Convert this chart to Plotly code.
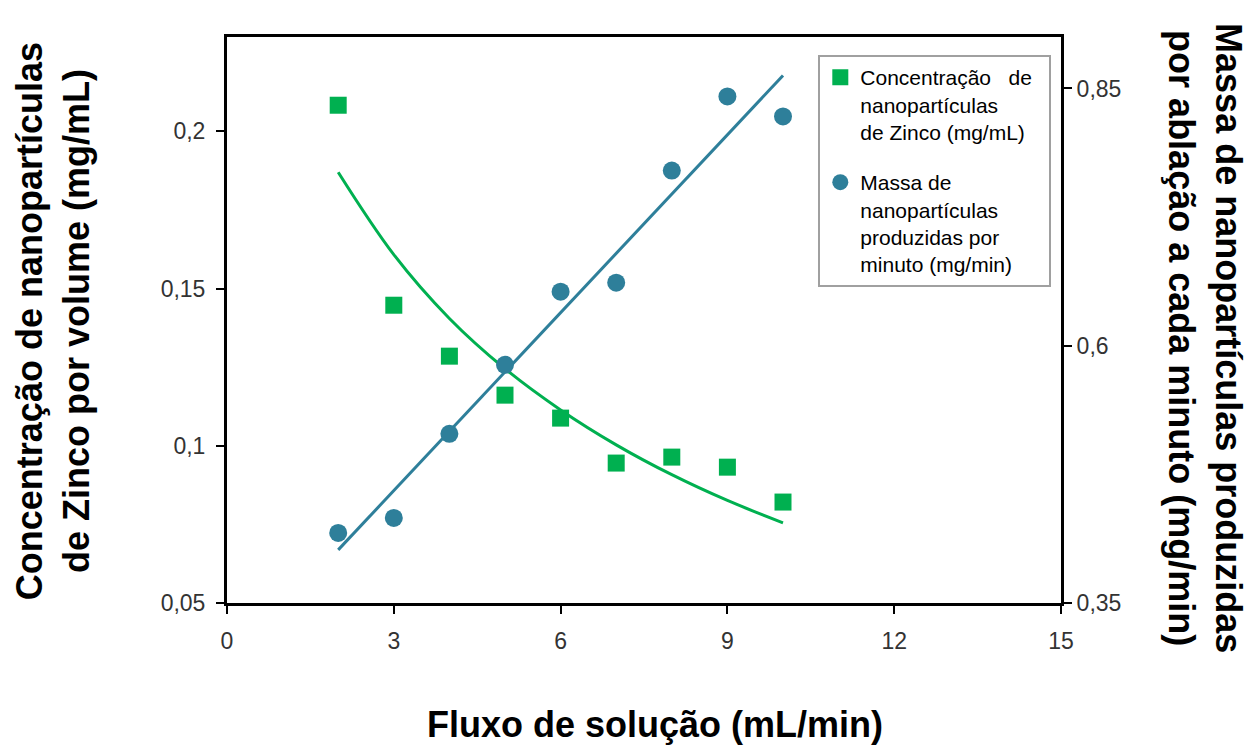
import plotly.graph_objects as go

# ---- data ----
flow = [2, 3, 4, 5, 6, 7, 8, 9, 10]
concentration = [0.2083, 0.1447, 0.1285, 0.1161, 0.1088, 0.0945, 0.0964, 0.0932, 0.0821]
mass_rate = [0.4181, 0.4327, 0.5144, 0.5815, 0.6525, 0.6613, 0.7702, 0.8422, 0.8228]

conc_fit_x = [2, 3, 4, 5, 6, 7, 8, 9, 10]
conc_fit_y = [0.187, 0.1608, 0.1405, 0.1245, 0.1114, 0.1003, 0.0908, 0.0826, 0.0755]
mass_fit_x = [2, 10]
mass_fit_y = [0.4016, 0.8626]

x_ticks = [0, 3, 6, 9, 12, 15]
y1_ticks = [0.05, 0.1, 0.15, 0.2]
y1_labels = ["0,05", "0,1", "0,15", "0,2"]
y2_ticks = [0.35, 0.6, 0.85]
y2_labels = ["0,35", "0,6", "0,85"]

GREEN = "#00b050"
BLUE = "#2e7f9a"
FONT = "Liberation Sans, Arial, sans-serif"
NB = "\u00a0"

fig = go.Figure()

fig.add_trace(go.Scatter(
    x=conc_fit_x, y=conc_fit_y, mode="lines", line=dict(color=GREEN, width=3, shape="spline"),
    showlegend=False, hoverinfo="skip"))
fig.add_trace(go.Scatter(
    x=mass_fit_x, y=mass_fit_y, mode="lines", line=dict(color=BLUE, width=3),
    yaxis="y2", showlegend=False, hoverinfo="skip"))

fig.add_trace(go.Scatter(
    x=flow, y=concentration, mode="markers", legendgroup="conc",
    marker=dict(symbol="square", size=17, color=GREEN),
    name="Concentração" + NB * 2 + " de" + NB * 2 + "<br>nanopartículas<br>de Zinco (mg/mL)"))
fig.add_trace(go.Scatter(
    x=flow, y=mass_rate, mode="markers", yaxis="y2", legendgroup="mass",
    marker=dict(symbol="circle", size=18, color=BLUE),
    name="Massa de<br>nanopartículas<br>produzidas por<br>minuto (mg/min)"))

axis_common = dict(showgrid=False, zeroline=False, showline=True, linecolor="black",
                   linewidth=3, ticks="outside", ticklen=8, tickwidth=2, tickcolor="black",
                   tickfont=dict(family=FONT, size=23, color="#333"))

fig.update_layout(
    width=1250, height=745,
    margin=dict(l=227, r=189, t=37, b=142),
    plot_bgcolor="white", paper_bgcolor="white",
    xaxis=dict(range=[0, 15], tickvals=x_ticks, mirror=True, ticklabelstandoff=7, **axis_common),
    yaxis=dict(range=[0.05, 0.23], tickvals=y1_ticks, ticktext=y1_labels,
               ticklabelstandoff=6, **axis_common),
    yaxis2=dict(range=[0.35, 0.9], tickvals=y2_ticks, ticktext=y2_labels,
                overlaying="y", side="right", **axis_common),
    legend=dict(x=0.709, y=0.968, xanchor="left", yanchor="top",
                bordercolor="#a0a0a0", borderwidth=2, bgcolor="white",
                font=dict(family=FONT, size=21, color="black"),
                valign="top", traceorder="grouped", tracegroupgap=20),
    showlegend=True,
)

title_font = dict(family=FONT, size=36, color="black")
fig.add_annotation(text="<b>Concentração de nanopartículas<br>de Zinco por volume (mg/mL)</b>",
                   xref="paper", yref="paper", x=-0.2086, y=0.498, textangle=-90,
                   xanchor="center", yanchor="middle", showarrow=False, font=title_font)
fig.add_annotation(text="<b>Massa de nanopartículas produzidas<br>por ablação a cada minuto (mg/min)</b>",
                   xref="paper", yref="paper", x=1.1727, y=0.468, textangle=90,
                   xanchor="center", yanchor="middle", showarrow=False, font=title_font)
fig.add_annotation(text="<b>Fluxo de solução (mL/min)</b>",
                   xref="paper", yref="paper", x=0.513, y=-0.2138,
                   xanchor="center", yanchor="middle", showarrow=False, font=title_font)

fig.write_html("out.html")
